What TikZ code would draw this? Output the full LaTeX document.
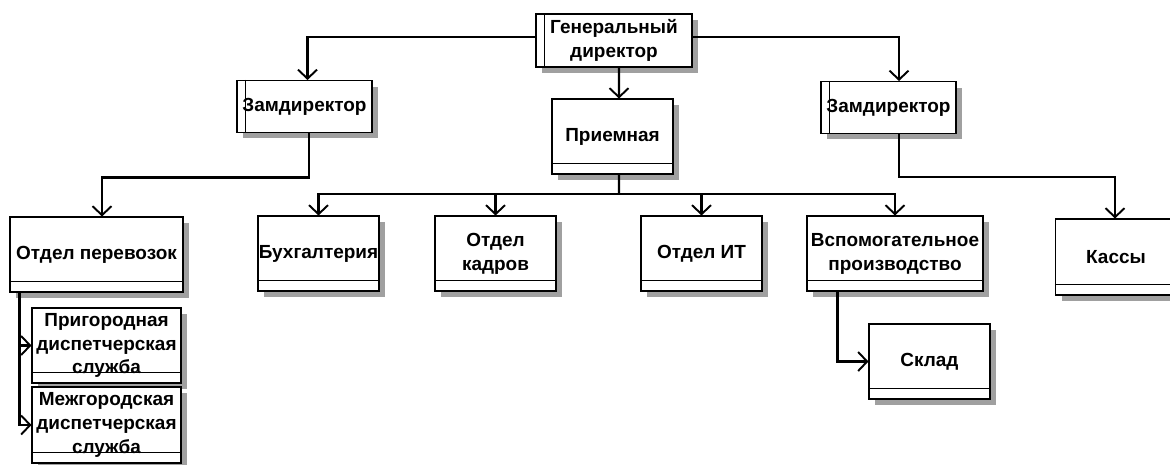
\documentclass[tikz,border=0pt]{standalone}
\usepackage{fontspec}
\setmainfont{Liberation Sans}
\usetikzlibrary{positioning,calc,arrows.meta}

\definecolor{shade}{RGB}{160,160,160}
\tikzset{
  box/.style={draw, fill=white, line width=0.6pt, inner sep=0pt, align=center,
    font=\bfseries\fontsize{10.8}{13.6}\selectfont, minimum height=1.5cm,
    preaction={draw=none, fill=shade, transform canvas={xshift=0.12cm, yshift=-0.12cm}}},
  conn/.style={line width=1.3pt, -{Straight Barb[length=1.8mm, width=3.8mm, line width=1.1pt]}},
  link/.style={line width=1.3pt},
}

\begin{document}
\begin{tikzpicture}[x=0.02cm, y=-0.02cm]
    \useasboundingbox (0,0) rectangle (1170,464);

    % heads
    \node (gd) [box, minimum width=3.12cm, minimum height=1.06cm] at (614,40.5) {Генеральный\\директор};
    \node (zamL) [box, minimum width=2.7cm, minimum height=1.04cm] at (304.5,106.5) {Замдиректор};
    \node (zamR) [box, minimum width=2.7cm, minimum height=1.04cm] at (888.5,107.5) {Замдиректор};
    \node (priem) [box, minimum width=2.42cm] at (612.5,136.5) {Приемная};

    % departments
    \node (perev) [box, minimum width=3.46cm] at (96.5,254.5) {Отдел перевозок};
    \node (buh) [box, minimum width=2.42cm] at (318.5,253.5) {Бухгалтерия};
    \node (kadr) [box, minimum width=2.42cm] at (495.5,253.5) {Отдел\\кадров};
    \node (it) [box, minimum width=2.42cm] at (701.5,253.5) {Отдел ИТ};
    \node (vsp) [box, minimum width=3.52cm] at (895,253.5) {Вспомогательное\\производство};
    \node (kassy) [box, minimum width=2.42cm, minimum height=1.52cm] at (1116,257) {Кассы};

    % lower level
    \node (sklad) [box, minimum width=2.42cm] at (929.5,361.5) {Склад};
    \node (prig) [box, minimum width=2.98cm] at (106.5,345.5) {Пригородная\\диспетчерская\\служба};
    \node (mezh) [box, minimum width=2.98cm, minimum height=1.52cm] at (106.5,425) {Межгородская\\диспетчерская\\служба};

    % side bars and bottom compartments
    \foreach \n in {gd,zamL,zamR}
      \draw[line width=0.6pt] ($(\n.north west)+(9,0)$) -- ($(\n.south west)+(9,0)$);
    \foreach \n in {priem,perev,buh,kadr,it,vsp,kassy,sklad,prig,mezh}
      \draw[line width=0.6pt] ($(\n.south west)+(0,-11)$) -- ($(\n.south east)+(0,-11)$);

    % connectors
    \draw[conn] ($(gd.west)+(0,-3.5)$) -| ($(zamL.north)+(3,0)$);
    \draw[conn] ($(gd.east)+(0,-3.5)$) -| ($(zamR.north)+(10.5,0)$);
    \draw[conn] ($(gd.south)+(5,0)$) -- ($(priem.north)+(6.5,0)$);

    \coordinate (bus) at (619,194);
    \draw[link] ($(priem.south)+(6.5,0)$) -- (bus);
    \foreach \n in {buh,kadr,it,vsp}
      \draw[conn] (bus) -| (\n.north);

    \draw[conn] ($(zamL.south)+(4.5,0)$) -- ++(0,44.5) -| ($(perev.north)+(5.5,0)$);
    \draw[conn] ($(zamR.south)+(10.5,0)$) -- ++(0,43) -| ($(kassy.north)+(-1,0)$);

    \draw[conn] ($(perev.south west)+(10,0)$) |- (prig.west);
    \draw[conn] ($(perev.south west)+(10,0)$) |- (mezh.west);
    \draw[conn] ($(vsp.south west)+(31,0)$) |- (sklad.west);
\end{tikzpicture}
\end{document}
